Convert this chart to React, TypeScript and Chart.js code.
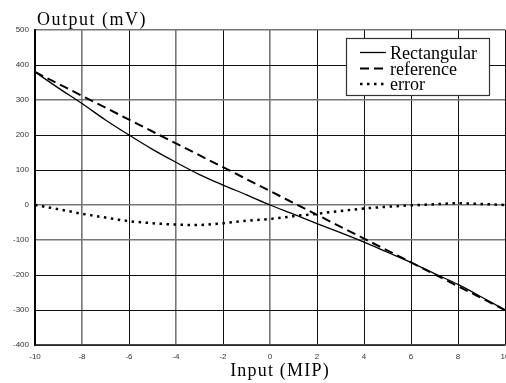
import React, { useEffect, useRef } from "react";
import { Chart, registerables } from "chart.js";

Chart.register(...registerables);

// ---- data ----
const rectX = [-10, -9, -8, -7, -6, -5, -4, -3, -2, -1, 0, 1, 2, 3, 4, 5, 6, 7, 8, 9, 10];
const rectangular = [380, 334, 290, 243, 200, 159, 122, 87, 57, 29, 0, -26, -53, -79, -106, -135, -164, -196, -227, -263, -300];

const refX = [-10, -8, -6, -4, -2, 0, 2, 4, 6, 8, 10];
const reference = [380, 312, 244, 176, 108, 40, -28, -96, -164, -232, -300];

const errX = [-10, -9, -8, -7, -6, -5, -4, -3, -2, -1, 0, 1, 2, 3, 4, 5, 6, 7, 8, 9, 10];
const errorVals = [0, -12, -25, -36, -46, -52, -56, -57, -52, -45, -40, -32, -25, -17, -10, -5, -1, 2, 5, 3, 0];

const seriesLabels = ["Rectangular", "reference", "error"];
const xTitle = "Input (MIP)";
const yTitle = "Output (mV)";

const xMin = -10, xMax = 10, xStep = 2;
const yMin = -400, yMax = 500, yStep = 100;

// grid lines that look lighter / thicker in the scan
const grayX = new Set([-8, -4, 0]);
const grayY = new Set([500, 300, 0, -100]);

const zip = (xs: number[], ys: number[]) => xs.map((x, i) => ({ x, y: ys[i] }));

const overlayPlugin = {
  id: "overlay",
  afterDraw(chart: any) {
    const ctx = chart.ctx as CanvasRenderingContext2D;
    const area = chart.chartArea;
    ctx.save();
    // titles
    ctx.fillStyle = "#000";
    ctx.font = "18px 'Liberation Serif'";
    (ctx as any).letterSpacing = "1.5px";
    ctx.textBaseline = "alphabetic";
    ctx.textAlign = "left";
    ctx.fillText(yTitle, 37, 25);
    (ctx as any).letterSpacing = "1.2px";
    ctx.textAlign = "center";
    ctx.fillText(xTitle, (area.left + area.right) / 2 + 10, 376);
    (ctx as any).letterSpacing = "0px";

    // legend box
    const bx = 346.5, by = 38.5, bw = 143, bh = 57;
    ctx.fillStyle = "#fff";
    ctx.fillRect(bx, by, bw, bh);
    ctx.strokeStyle = "#333";
    ctx.lineWidth = 1.2;
    ctx.strokeRect(bx, by, bw, bh);
    const rows = [52.5, 68.5, 84];
    chart.data.datasets.forEach((ds: any, i: number) => {
      const y = rows[i];
      ctx.beginPath();
      ctx.setLineDash(ds.borderDash || []);
      ctx.lineWidth = ds.borderWidth;
      ctx.strokeStyle = ds.borderColor;
      ctx.lineCap = "butt";
      ctx.moveTo(360, y);
      ctx.lineTo(386, y);
      ctx.stroke();
      ctx.setLineDash([]);
      ctx.fillStyle = "#000";
      ctx.font = "18px 'Liberation Serif'";
      ctx.textAlign = "left";
      ctx.textBaseline = "alphabetic";
      ctx.fillText(ds.label, 390, y + 6);
    });
    ctx.restore();
  },
};

export default function App() {
  const ref = useRef<HTMLCanvasElement | null>(null);
  useEffect(() => {
    if (!ref.current) return;
    const chart = new Chart(ref.current, {
      type: "line",
      data: {
        datasets: [
          {
            label: seriesLabels[0],
            data: zip(rectX, rectangular),
            borderColor: "#000",
            borderWidth: 1.3,
            pointRadius: 0,
            cubicInterpolationMode: "monotone",
            fill: false,
          },
          {
            label: seriesLabels[1],
            data: zip(refX, reference),
            borderColor: "#000",
            borderWidth: 2,
            borderDash: [9, 5],
            pointRadius: 0,
            fill: false,
          },
          {
            label: seriesLabels[2],
            data: zip(errX, errorVals),
            borderColor: "#000",
            borderWidth: 2.5,
            borderDash: [2.5, 4.5],
            borderCapStyle: "butt",
            pointRadius: 0,
            cubicInterpolationMode: "monotone",
            fill: false,
          },
        ],
      },
      options: {
        responsive: false,
        animation: false,
        layout: { padding: { top: 30, right: 15, left: 0, bottom: 0 } },
        plugins: {
          legend: { display: false },
          tooltip: { enabled: false },
          title: { display: false },
        },
        scales: {
          x: {
            type: "linear",
            min: xMin,
            max: xMax,
            ticks: {
              stepSize: xStep,
              padding: 7,
              color: "#333",
              font: { family: "'Liberation Sans'", size: 8 },
              maxRotation: 0,
            },
            grid: {
              drawTicks: false,
              color: (c: any) => (grayX.has(c.tick?.value) ? "#777" : "#111"),
              lineWidth: (c: any) => (grayX.has(c.tick?.value) ? 1.6 : 1),
            },
            border: { display: true, color: "#444", width: 1.6 },
            afterFit: (s: any) => {
              s.height = 38;
            },
          },
          y: {
            type: "linear",
            min: yMin,
            max: yMax,
            ticks: {
              stepSize: yStep,
              padding: 6,
              color: "#333",
              font: { family: "'Liberation Sans'", size: 8 },
            },
            grid: {
              drawTicks: false,
              color: (c: any) => (grayY.has(c.tick?.value) ? "#777" : "#111"),
              lineWidth: (c: any) => (grayY.has(c.tick?.value) ? 1.6 : 1),
            },
            border: { display: true, color: "#000", width: 1.8 },
            afterFit: (s: any) => {
              s.width = 35;
            },
          },
        },
      },
      plugins: [overlayPlugin],
    } as any);
    return () => chart.destroy();
  }, []);

  return (
    <div
      style={{
        position: "fixed",
        left: 0,
        top: 0,
        width: 506,
        height: 383,
        overflow: "hidden",
        background: "#fff",
      }}
    >
      <canvas ref={ref} width={520} height={383} style={{ display: "block" }} />
    </div>
  );
}
